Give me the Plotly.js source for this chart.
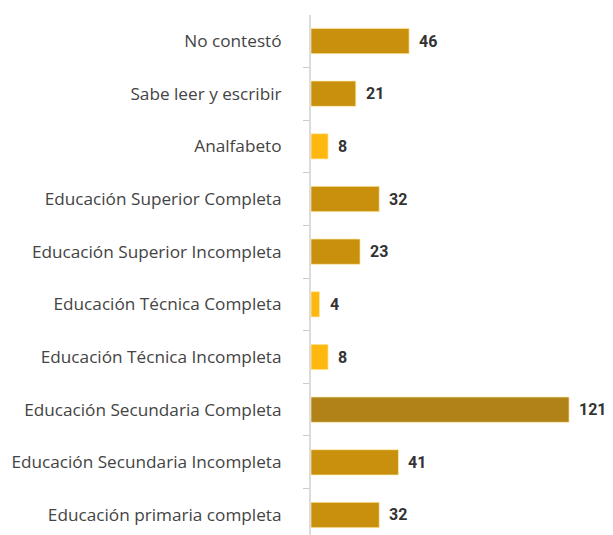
<!DOCTYPE html>
<html>
<head>
<meta charset="utf-8">
<script src="https://cdn.plot.ly/plotly-3.0.1.min.js"></script>
<style>html,body{margin:0;padding:0;background:#fff;}#chart{width:613px;height:535px;}</style>
</head>
<body>
<div id="chart"></div>
<script>
var categories = [
  "No contestó",
  "Sabe leer y escribir",
  "Analfabeto",
  "Educación Superior Completa",
  "Educación Superior Incompleta",
  "Educación Técnica Completa",
  "Educación Técnica Incompleta",
  "Educación Secundaria Completa",
  "Educación Secundaria Incompleta",
  "Educación primaria completa"
];
var values = [46, 21, 8, 32, 23, 4, 8, 121, 41, 32];

var trace = {
  type: "bar",
  orientation: "h",
  x: values,
  y: categories,
  width: 0.48,
  marker: {
    color: values,
    cmin: 0,
    cmax: 121,
    colorscale: [[0, "#FFB80F"], [0.08, "#FFB80F"], [0.12, "#C8900C"], [0.5, "#C8900C"], [1, "#B08218"]],
    showscale: false,
    line: {color: "rgba(255,235,170,0.7)", width: 1}
  },
  hoverinfo: "none"
};

var annotations = values.map(function (v, i) {
  return {
    x: v, y: categories[i], xref: "x", yref: "y",
    text: String(v), showarrow: false, xanchor: "left", xshift: 8,
    font: {family: "Roboto, Liberation Sans, sans-serif", size: 16, color: "#333", weight: "bold"}
  };
});

var layout = {
  width: 613, height: 535,
  margin: {l: 311, r: 0, t: 15, b: 0},
  paper_bgcolor: "#fff", plot_bgcolor: "#fff",
  showlegend: false,
  bargap: 0.5,
  xaxis: {range: [0, 141.6], visible: false, fixedrange: true},
  yaxis: {
    type: "category",
    categoryorder: "array",
    categoryarray: categories,
    range: [9.38, -0.494],
    showline: true, linecolor: "#dcdcdc", linewidth: 2,
    ticks: "outside", tickson: "boundaries", ticklen: 6, tickcolor: "#cccccc", tickwidth: 1,
    ticklabelstandoff: 24,
    showgrid: false, zeroline: false,
    tickfont: {family: "Open Sans, Noto Sans, sans-serif", size: 17.2, color: "#444"}
  },
  annotations: annotations
};

Plotly.newPlot("chart", [trace], layout, {displayModeBar: false, staticPlot: true});
</script>
</body>
</html>
